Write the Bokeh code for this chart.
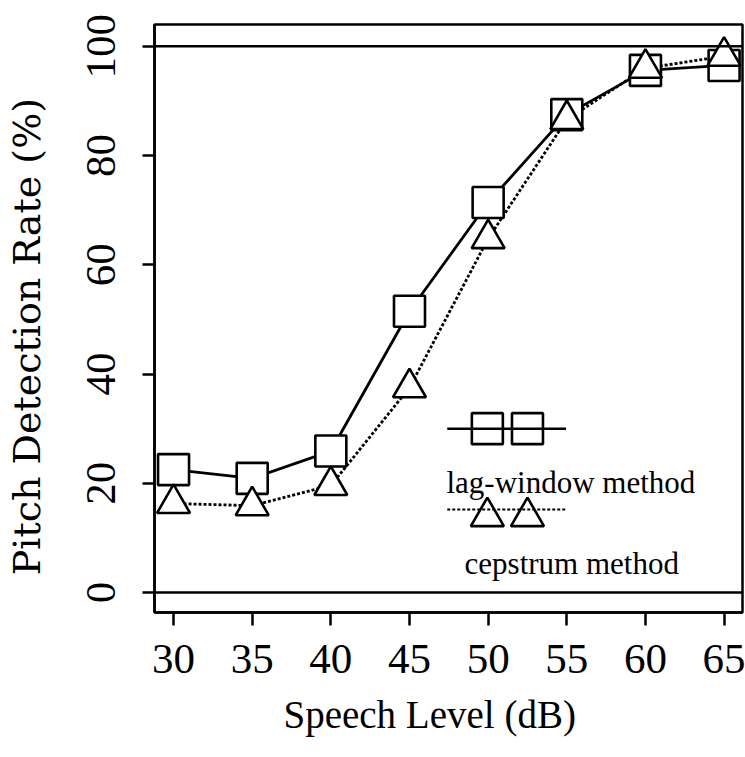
from bokeh.plotting import figure
from bokeh.models import Span, Range1d, FixedTicker, Label, Title
from bokeh.embed import file_html
from bokeh.resources import INLINE

# ---- data ----
speech_level = [30, 35, 40, 45, 50, 55, 60, 65]
lag_window = [22.5, 20.9, 25.9, 51.5, 71.4, 87.5, 95.6, 96.5]
cepstrum = [16.3, 15.9, 19.6, 37.5, 64.8, 86.6, 96.0, 98.2]
x_ticks = [30, 35, 40, 45, 50, 55, 60, 65]
y_ticks = [0, 20, 40, 60, 80, 100]
ref_lines = [0, 100]
legend_labels = ["lag-window method", "cepstrum method"]
x_title = "Speech Level (dB)"
y_title = "Pitch Detection Rate (%)"

# legend layout (data units)
LEG_X0, LEG_X1 = 47.4, 54.95
LEG_MARK_X = [49.95, 52.5]
LEG_Y_LAG, LEG_Y_CEP = 30.0, 13.9
LEG_Y_CEP_LINE = 15.2
LEG_TXT_LAG = (47.35, 20.1)
LEG_TXT_CEP = (48.5, 5.3)

SERIF = "Liberation Serif"

p = figure(width=745, height=757, output_backend="svg", toolbar_location=None,
           x_range=Range1d(28.79, 66.17), y_range=Range1d(-3.66, 104.0),
           min_border_left=154, min_border_right=3, min_border_top=24,
           min_border_bottom=145)
p.background_fill_color = "white"
p.border_fill_color = "white"
p.grid.visible = False
p.outline_line_color = "black"
p.outline_line_width = 2.5

# axes
p.xaxis.ticker = FixedTicker(ticks=x_ticks)
p.yaxis.ticker = FixedTicker(ticks=y_ticks)
for ax in (p.xaxis[0], p.yaxis[0]):
    ax.axis_line_color = "black"
    ax.axis_line_width = 2.5
    ax.major_tick_line_color = "black"
    ax.major_tick_line_width = 2.5
    ax.minor_tick_line_color = None
    ax.major_tick_in = 0
    ax.major_label_text_font = SERIF
    ax.major_label_text_font_size = "43px"
    ax.major_label_text_color = "black"

p.xaxis.major_tick_out = 13
p.xaxis.major_label_standoff = 19

p.yaxis.major_tick_out = 12
p.yaxis.major_label_orientation = "vertical"
p.yaxis.major_label_standoff = 27
# y title; trailing no-break spaces nudge the centred text slightly down,
# as in the reference
p.yaxis.axis_label = y_title + "\u00a0\u00a0\u00a0"
p.yaxis.axis_label_text_font = "DejaVu Serif"
p.yaxis.axis_label_text_font_size = "38px"
p.yaxis.axis_label_text_font_style = "normal"
p.yaxis.axis_label_text_color = "black"
p.yaxis.axis_label_standoff = 36

# x title (side title, offset like in the reference)
p.add_layout(Title(text=x_title, align="left", offset=129, vertical_align="top",
                   standoff=35, text_font=SERIF, text_font_size="39px",
                   text_font_style="normal", text_color="black"), "below")

# horizontal reference lines at 0 and 100
for v in ref_lines:
    p.add_layout(Span(location=v, dimension="width", line_color="black", line_width=2.5))

# series lines
p.line(speech_level, lag_window, line_color="black", line_width=2.8)
p.line(speech_level, cepstrum, line_color="black", line_width=2.8, line_dash="3 2")

# markers
p.scatter(speech_level, lag_window, marker="square", size=31, fill_color="white",
          line_color="black", line_width=2.6)
p.scatter(speech_level, cepstrum, marker="triangle", size=33, fill_color="white",
          line_color="black", line_width=2.6)

# custom legend
p.line([LEG_X0, LEG_X1], [LEG_Y_LAG, LEG_Y_LAG], line_color="black", line_width=2.5)
p.scatter(LEG_MARK_X, [LEG_Y_LAG] * 2, marker="square", size=31, fill_color=None,
          line_color="black", line_width=2.6)
p.line([LEG_X0, LEG_X1], [LEG_Y_CEP_LINE, LEG_Y_CEP_LINE], line_color="black",
       line_width=2.2, line_dash="3 2")
p.scatter(LEG_MARK_X, [LEG_Y_CEP] * 2, marker="triangle", size=33, fill_color=None,
          line_color="black", line_width=2.6)
p.add_layout(Label(x=LEG_TXT_LAG[0], y=LEG_TXT_LAG[1], text=legend_labels[0],
                   text_font=SERIF, text_font_size="31px", text_color="black",
                   text_baseline="alphabetic"))
p.add_layout(Label(x=LEG_TXT_CEP[0], y=LEG_TXT_CEP[1], text=legend_labels[1],
                   text_font=SERIF, text_font_size="31px", text_color="black",
                   text_baseline="alphabetic"))

open("out.html", "w").write(file_html(p, INLINE))
